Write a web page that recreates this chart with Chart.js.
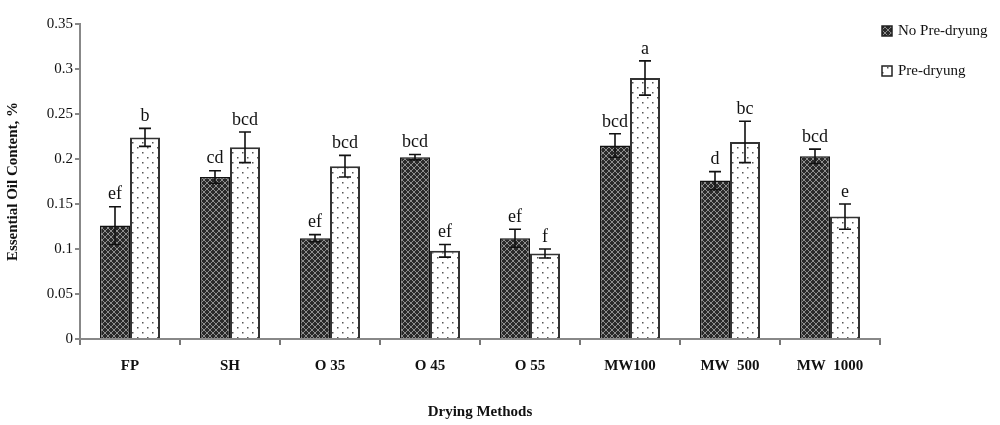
<!DOCTYPE html>
<html>
<head>
<meta charset="utf-8">
<script src="https://cdn.jsdelivr.net/npm/chart.js@4"></script>
<style>
  html, body { margin: 0; padding: 0; background: #fff; }
  #wrap { width: 1000px; height: 425px; position: relative; }
</style>
</head>
<body>
<div id="wrap"><canvas id="chart" width="1000" height="425"></canvas></div>
<script>
// data
const methods = ['FP', 'SH', 'O 35', 'O 45', 'O 55', 'MW100', 'MW  500', 'MW  1000'];
const noPreValues = [0.126, 0.180, 0.112, 0.202, 0.112, 0.215, 0.176, 0.203];
const noPreErrors = [0.021, 0.007, 0.004, 0.003, 0.010, 0.013, 0.010, 0.008];
const noPreLetters = ['ef', 'cd', 'ef', 'bcd', 'ef', 'bcd', 'd', 'bcd'];
const preValues = [0.224, 0.213, 0.192, 0.098, 0.095, 0.290, 0.219, 0.136];
const preErrors = [0.010, 0.017, 0.012, 0.007, 0.005, 0.019, 0.023, 0.014];
const preLetters = ['b', 'bcd', 'bcd', 'ef', 'f', 'a', 'bc', 'e'];
const seriesNames = ['No Pre-dryung', 'Pre-dryung'];

const serif = "'Liberation Serif', 'DejaVu Serif', serif";

// hatch patterns
function darkPattern() {
    const c = document.createElement('canvas');
    c.width = 6; c.height = 6;
    const g = c.getContext('2d');
    g.fillStyle = '#2a2a2a';
    g.fillRect(0, 0, 6, 6);
    g.strokeStyle = '#8e8e8e';
    g.lineWidth = 1;
    g.beginPath();
    g.moveTo(0, 0); g.lineTo(6, 6);
    g.moveTo(6, 0); g.lineTo(0, 6);
    g.stroke();
    return g.createPattern(c, 'repeat');
}
function dotPattern() {
    const c = document.createElement('canvas');
    c.width = 10; c.height = 10;
    const g = c.getContext('2d');
    g.fillStyle = '#ffffff';
    g.fillRect(0, 0, 10, 10);
    g.fillStyle = '#555';
    g.fillRect(2, 2, 1.5, 1.5);
    g.fillRect(7, 7, 1.5, 1.5);
    return g.createPattern(c, 'repeat');
}
const darkFill = darkPattern();
const dotFill = dotPattern();

// error bars + significance letters
const errorBars = {
    id: 'errorBars',
    afterDatasetsDraw(chart) {
        const ctx = chart.ctx;
        const y = chart.scales.y;
        const errs = [noPreErrors, preErrors];
        const letters = [noPreLetters, preLetters];
        ctx.save();
        chart.data.datasets.forEach((ds, di) => {
            chart.getDatasetMeta(di).data.forEach((bar, i) => {
                const v = ds.data[i];
                const top = y.getPixelForValue(v + errs[di][i]);
                const bot = y.getPixelForValue(v - errs[di][i]);
                ctx.strokeStyle = '#111';
                ctx.lineWidth = 1.6;
                ctx.beginPath();
                ctx.moveTo(bar.x, top); ctx.lineTo(bar.x, bot);
                ctx.moveTo(bar.x - 6, top); ctx.lineTo(bar.x + 6, top);
                ctx.moveTo(bar.x - 6, bot); ctx.lineTo(bar.x + 6, bot);
                ctx.stroke();
                ctx.fillStyle = '#111';
                ctx.font = '18px ' + serif;
                ctx.textAlign = 'center';
                ctx.textBaseline = 'bottom';
                ctx.fillText(letters[di][i], bar.x, top - 3);
            });
        });
        ctx.restore();
    }
};

// legend at the right
const sideLegend = {
    id: 'sideLegend',
    afterDraw(chart) {
        const ctx = chart.ctx;
        const fills = [darkFill, dotFill];
        ctx.save();
        seriesNames.forEach((name, i) => {
            const ly = 31 + i * 40;
            ctx.fillStyle = fills[i];
            ctx.fillRect(882, ly - 5, 10, 10);
            ctx.strokeStyle = '#222';
            ctx.lineWidth = 1.5;
            ctx.strokeRect(882, ly - 5, 10, 10);
            ctx.fillStyle = '#111';
            ctx.font = '15px ' + serif;
            ctx.textAlign = 'left';
            ctx.textBaseline = 'middle';
            ctx.fillText(name, 898, ly);
        });
        ctx.restore();
    }
};

new Chart(document.getElementById('chart'), {
    type: 'bar',
    data: {
        labels: methods,
        datasets: [
            { label: seriesNames[0], data: noPreValues, backgroundColor: darkFill, borderColor: '#111', borderWidth: 1.5 },
            { label: seriesNames[1], data: preValues, backgroundColor: dotFill, borderColor: '#333', borderWidth: 2 }
        ]
    },
    options: {
        responsive: false,
        animation: false,
        categoryPercentage: 0.6,
        barPercentage: 1.0,
        layout: { padding: { top: 24, right: 120, left: 0, bottom: 0 } },
        plugins: { legend: { display: false }, tooltip: { enabled: false } },
        scales: {
            x: {
                grid: { offset: true, drawOnChartArea: false, tickLength: 6, color: '#777', lineWidth: 2 },
                border: { color: '#888', width: 2 },
                ticks: { color: '#111', font: { family: serif, size: 15, weight: 'bold' }, padding: 12 },
                title: { display: true, text: 'Drying Methods', color: '#111', font: { family: serif, size: 15, weight: 'bold' }, padding: { top: 30 } },
                afterFit: s => { s.height = 86; }
            },
            y: {
                min: 0, max: 0.35,
                grid: { drawOnChartArea: false, tickLength: 5, color: '#888', lineWidth: 2 },
                border: { color: '#888', width: 2 },
                ticks: {
                    stepSize: 0.05, color: '#111', font: { family: serif, size: 15 }, padding: 2,
                    callback: v => String(+v.toFixed(2))
                },
                title: { display: true, text: 'Essential Oil Content, %', color: '#111', font: { family: serif, size: 15, weight: 'bold' } },
                afterFit: s => { s.width = 80; }
            }
        }
    },
    plugins: [errorBars, sideLegend]
});
</script>
</body>
</html>
